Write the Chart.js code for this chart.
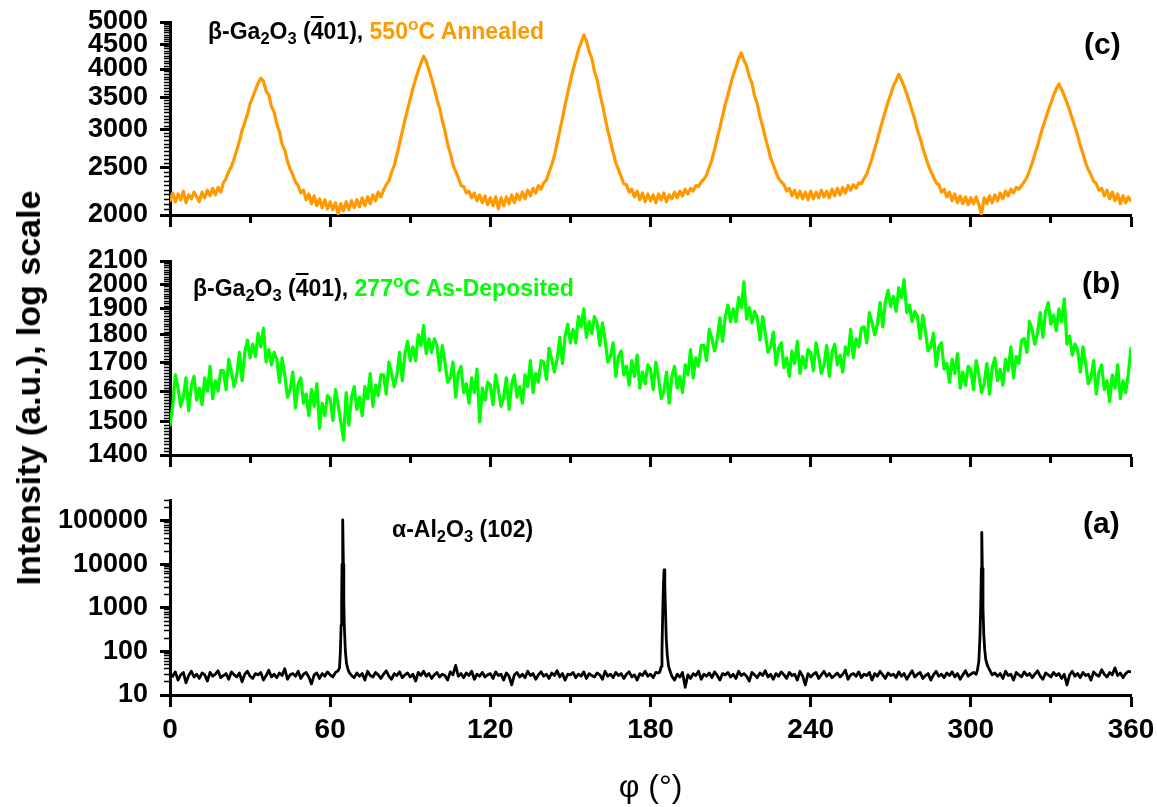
<!DOCTYPE html>
<html>
<head>
<meta charset="utf-8">
<script src="https://cdn.jsdelivr.net/npm/chart.js@4.4.1/dist/chart.umd.min.js"></script>
<style>
html,body{margin:0;padding:0;background:#fff;}
#wrap{position:relative;width:1157px;height:807px;overflow:hidden;font-family:"Liberation Sans",Arial,Helvetica,sans-serif;background:#fff;}
canvas{position:absolute;left:0;}
.ann{position:absolute;white-space:nowrap;font-weight:bold;font-size:23px;line-height:23px;color:#000;}
.sb{position:relative;font-size:0.72em;top:0.32em;}
.sp{position:relative;font-size:0.75em;top:-0.55em;}
.ob{text-decoration:overline;}
.lt{position:absolute;white-space:nowrap;font-weight:bold;font-size:30px;line-height:30px;color:#000;}
#ytitle{position:absolute;left:28px;top:388px;transform:translate(-50%,-50%) rotate(-90deg);font-weight:bold;font-size:34px;line-height:34px;white-space:nowrap;color:#000;}
</style>
</head>
<body>
<div id="wrap">
  <canvas id="cC" width="1157" height="240" style="top:0px;width:1157px;height:240px"></canvas>
  <canvas id="cB" width="1157" height="240" style="top:240px;width:1157px;height:240px"></canvas>
  <canvas id="cA" width="1157" height="327" style="top:480px;width:1157px;height:327px"></canvas>
  <div id="ytitle">Intensity (a.u.), log scale</div>
  <div class="ann" style="left:208px;top:20px">β-Ga<span class="sb">2</span>O<span class="sb">3</span> (<span class="ob">4</span>01), <span style="color:#FF9900">550<span class="sp">o</span>C Annealed</span></div>
  <div class="ann" style="left:193px;top:277px">β-Ga<span class="sb">2</span>O<span class="sb">3</span> (<span class="ob">4</span>01), <span style="color:#00FF00">277<span class="sp">o</span>C As-Deposited</span></div>
  <div class="ann" style="left:392px;top:518px">α-Al<span class="sb">2</span>O<span class="sb">3</span> (102)</div>
  <div class="lt" style="left:1084px;top:29px">(c)</div>
  <div class="lt" style="left:1082px;top:268px">(b)</div>
  <div class="lt" style="left:1083px;top:508px">(a)</div>
</div>
<script>
// ---------------- data ----------------
const PHI_STEP = 1; // degrees between samples of panels (b) and (c)

// (c) beta-Ga2O3 (-401), 550 C annealed
const intensityC = [
2140,2220,2130,2210,2150,2240,2120,2200,2160,2230,
2180,2130,2230,2170,2250,2190,2270,2200,2280,2230,
2330,2380,2460,2520,2610,2720,2840,2990,3100,3230,
3390,3500,3620,3740,3830,3780,3600,3540,3350,3260,
3080,2970,2800,2720,2580,2490,2420,2340,2300,2220,
2250,2150,2210,2110,2190,2090,2160,2070,2150,2060,
2130,2050,2120,2010,2110,2040,2130,2050,2140,2070,
2150,2080,2170,2090,2180,2110,2200,2140,2230,2180,
2250,2310,2350,2450,2530,2660,2810,2970,3140,3300,
3470,3650,3810,3970,4110,4250,4150,3980,3820,3650,
3470,3320,3130,2980,2800,2680,2540,2460,2390,2300,
2290,2220,2240,2170,2220,2140,2200,2120,2190,2100,
2170,2090,2180,2060,2170,2090,2180,2110,2200,2120,
2210,2150,2230,2160,2250,2190,2270,2220,2300,2260,
2330,2360,2450,2540,2650,2810,2980,3160,3370,3570,
3780,3990,4170,4380,4530,4700,4570,4350,4210,3960,
3800,3560,3380,3170,2990,2840,2690,2560,2480,2400,
2320,2310,2230,2260,2180,2240,2150,2220,2130,2210,
2140,2200,2120,2210,2150,2220,2130,2200,2160,2230,
2170,2240,2190,2260,2210,2270,2240,2300,2290,2340,
2370,2420,2510,2600,2730,2880,3030,3200,3380,3540,
3720,3890,4030,4200,4315,4170,4060,3860,3740,3520,
3390,3190,3050,2890,2760,2620,2540,2450,2380,2340,
2310,2240,2270,2190,2250,2170,2240,2160,2230,2150,
2240,2160,2230,2170,2250,2180,2240,2170,2260,2190,
2270,2200,2280,2220,2300,2250,2310,2270,2330,2320,
2380,2430,2520,2620,2740,2860,3000,3140,3280,3420,
3550,3690,3790,3900,3800,3680,3550,3420,3280,3150,
2990,2880,2750,2640,2540,2460,2400,2330,2310,2230,
2260,2180,2230,2140,2210,2120,2190,2110,2180,2100,
2170,2110,2180,2100,2010,2170,2110,2190,2120,2200,
2140,2220,2160,2240,2190,2260,2220,2280,2260,2300,
2340,2390,2470,2560,2670,2780,2910,3040,3160,3290,
3400,3530,3640,3725,3630,3520,3410,3290,3160,3040,
2920,2780,2680,2560,2480,2420,2350,2320,2250,2270,
2190,2250,2160,2230,2140,2210,2110,2190,2120,2180,
2140
];

// (b) beta-Ga2O3 (-401), 277 C as-deposited
const intensityB = [
1490,1550,1655,1610,1550,1580,1645,1535,1620,1650,
1570,1610,1555,1645,1600,1685,1575,1635,1600,1670,
1670,1605,1710,1665,1615,1655,1735,1635,1735,1780,
1715,1765,1720,1805,1755,1825,1700,1745,1690,1735,
1710,1630,1715,1655,1580,1605,1665,1545,1625,1645,
1560,1590,1520,1605,1550,1625,1480,1560,1520,1585,
1575,1505,1605,1555,1500,1445,1595,1490,1580,1615,
1540,1580,1520,1615,1575,1660,1550,1620,1585,1655,
1655,1590,1700,1660,1615,1655,1735,1635,1730,1775,
1705,1755,1705,1800,1760,1835,1730,1785,1735,1785,
1760,1670,1760,1700,1630,1645,1700,1580,1660,1685,
1595,1625,1560,1645,1595,1675,1500,1610,1570,1630,
1620,1555,1655,1605,1550,1580,1645,1540,1625,1655,
1580,1615,1560,1655,1615,1705,1595,1660,1630,1705,
1700,1640,1750,1710,1665,1710,1790,1695,1795,1840,
1770,1820,1770,1870,1830,1900,1790,1850,1805,1870,
1845,1760,1845,1780,1700,1720,1770,1650,1720,1740,
1655,1685,1620,1705,1650,1725,1610,1665,1625,1690,
1675,1605,1700,1645,1575,1600,1665,1560,1650,1685,
1610,1650,1595,1690,1655,1745,1645,1715,1685,1760,
1760,1705,1820,1785,1740,1785,1865,1775,1870,1915,
1850,1900,1850,1945,1905,2010,1860,1905,1845,1890,
1865,1780,1870,1805,1735,1755,1810,1690,1750,1770,
1680,1715,1650,1740,1695,1775,1660,1720,1680,1745,
1735,1670,1770,1720,1660,1690,1760,1650,1735,1765,
1690,1725,1665,1755,1725,1820,1715,1785,1755,1825,
1830,1770,1885,1845,1800,1840,1925,1830,1930,1975,
1910,1950,1890,1985,1945,2020,1885,1915,1850,1890,
1870,1785,1875,1810,1740,1755,1805,1685,1755,1770,
1675,1695,1630,1710,1660,1730,1610,1665,1620,1685,
1675,1605,1705,1655,1595,1625,1695,1590,1680,1715,
1635,1675,1620,1710,1670,1755,1645,1720,1695,1780,
1785,1735,1850,1815,1765,1810,1885,1790,1890,1925,
1840,1875,1815,1900,1850,1940,1765,1795,1725,1765,
1745,1665,1755,1695,1625,1645,1705,1590,1665,1690,
1605,1635,1565,1655,1610,1690,1575,1635,1595,1660,
1750
];

// (a) alpha-Al2O3 (102): background sampled every degree ...
const backgroundA = [
31,27,34,22,29,33,19,28,35,26,
30,24,32,29,21,33,27,30,36,25,
28,31,23,34,29,26,32,20,30,35,
27,24,31,29,33,22,28,37,26,30,
25,32,28,40,23,29,31,27,35,24,
30,33,26,18,29,32,24,31,27,34,
29,26,33,36,30,30,30,30,28,25,
32,27,31,22,35,28,26,33,29,24,
30,36,27,23,31,28,34,25,29,32,
26,30,21,33,28,35,27,31,24,29,
33,26,30,28,22,34,29,48,27,31,
25,32,28,35,23,30,27,33,26,29,
31,24,34,28,30,22,32,27,17,29,
33,26,30,25,35,28,31,23,29,34,
27,30,24,32,28,36,26,31,22,30,
29,33,25,30,27,34,24,31,28,26,
32,29,23,35,27,30,25,33,28,31,
24,30,34,26,29,22,31,28,35,27,
30,25,33,32,30,30,30,30,27,22,
30,26,33,15,29,24,31,28,35,23,
30,27,32,25,34,28,22,31,29,33,
26,30,24,35,28,31,27,21,33,29,
25,32,28,36,26,30,23,31,27,34,
29,24,33,28,30,22,35,27,17,31,
26,30,33,24,29,35,27,31,25,28,
32,26,30,37,23,29,31,27,34,25,
30,28,33,22,31,27,35,29,24,32,
28,30,25,34,27,31,23,29,36,26,
30,33,24,28,31,22,29,35,27,30,
25,32,28,34,26,31,23,29,36,27,
30,33,30,30,30,30,30,36,29,32,
27,31,24,35,28,30,22,33,29,26,
34,28,31,25,30,36,27,23,32,29,
26,33,28,31,24,30,17,29,35,27,
31,25,33,28,30,22,34,29,27,38,
30,26,33,29,42,28,32,25,31,35,
34
];
// ... and the three substrate reflections, finely sampled [phi, intensity]
const peakA1 = [[63,36],[63.5,42],[63.8,90],[64.1,400],[64.3,1500],[64.45,10000],[64.7,105000],[64.95,10000],[65.1,1500],[65.3,400],[65.7,100],[66.1,55],[66.5,42],[67,34]];
const peakA2 = [[183.5,34],[184,45],[184.3,100],[184.6,900],[184.85,3500],[185.1,7500],[185.35,3500],[185.6,900],[185.9,200],[186.3,80],[186.8,45],[187.3,36]];
const peakA3 = [[302.5,38],[303,60],[303.4,200],[303.7,1000],[303.95,8000],[304.1,54000],[304.3,8000],[304.55,1000],[304.85,250],[305.2,110],[305.6,65],[306.2,48],[307,38]];

// axis ticks / labels
const xLabels = [0, 60, 120, 180, 240, 300, 360];
const xMinorStep = 30;
const yLabelsC = [2000, 2500, 3000, 3500, 4000, 4500, 5000];
const yMinorStepC = 50;
const yLabelsB = [1400, 1500, 1600, 1700, 1800, 1900, 2000, 2100];
const yMinorStepB = 10;
const yLabelsA = [10, 100, 1000, 10000, 100000];
const yMaxA = 300000;

// ---------------- helpers ----------------
const FONT = "'Liberation Sans', Arial, Helvetica, sans-serif";
Chart.defaults.font.family = FONT;
Chart.defaults.color = '#000';

function rangeTicks(lo, hi, step) { const t = []; for (let v = lo; v <= hi + 1e-9; v += step) t.push(v); return t; }
const xTicks = rangeTicks(xLabels[0], xLabels[xLabels.length - 1], xMinorStep);
const yTicksC = rangeTicks(yLabelsC[0], yLabelsC[yLabelsC.length - 1], yMinorStepC);
const yTicksB = rangeTicks(yLabelsB[0], yLabelsB[yLabelsB.length - 1], yMinorStepB);
const yTicksA = [];
yLabelsA.forEach(d => { for (let m = 1; m <= 9; m++) { if (m * d <= yMaxA) yTicksA.push(m * d); } });

function seriesFromSteps(arr) { return arr.map((v, i) => ({ x: i * PHI_STEP, y: v })); }
function seriesA() {
  const pts = [];
  const wins = [peakA1, peakA2, peakA3].map(p => [p[0][0], p[p.length - 1][0]]);
  backgroundA.forEach((v, i) => {
    const x = i * PHI_STEP;
    if (!wins.some(w => x >= w[0] && x <= w[1])) pts.push({ x: x, y: v });
  });
  [peakA1, peakA2, peakA3].forEach(p => p.forEach(q => pts.push({ x: q[0], y: q[1] })));
  pts.sort((a, b) => a.x - b.x);
  return pts;
}

function xScale(showLabels, height) {
  return {
    type: 'linear', position: 'bottom', min: xLabels[0], max: xLabels[xLabels.length - 1],
    afterBuildTicks: s => { s.ticks = xTicks.map(v => ({ value: v })); },
    afterFit: s => { s.height = height; s.paddingLeft = 0; s.paddingRight = 0; },
    border: { display: true, color: '#000', width: 3 },
    grid: {
      display: true, drawOnChartArea: false, drawTicks: true, tickLength: 12, lineWidth: 1,
      tickColor: '#000', tickWidth: 3,
      tickBorderDash: c => (xLabels.includes(c.tick && c.tick.value) ? [] : [6, 40])
    },
    ticks: {
      display: showLabels, autoSkip: false, maxRotation: 0, padding: 6, color: '#000',
      font: { family: FONT, size: 28, weight: 'bold' },
      callback: v => (xLabels.includes(v) ? String(v) : '')
    },
    title: showLabels ? { display: true, text: 'φ (°)', color: '#000', font: { family: FONT, size: 32, weight: 'normal' }, padding: { top: 0, bottom: 0 } } : { display: false }
  };
}

function yScale(min, max, tickVals, labelVals) {
  return {
    type: 'logarithmic', position: 'left', min: min, max: max,
    afterBuildTicks: s => { s.ticks = tickVals.map(v => ({ value: v })); },
    afterFit: s => { s.width = 170; s.paddingTop = 0; s.paddingBottom = 0; },
    border: { display: true, color: '#000', width: 3 },
    grid: {
      display: true, drawOnChartArea: false, drawTicks: true, tickLength: 10, lineWidth: 1,
      tickColor: '#000',
      tickWidth: c => (labelVals.includes(c.tick && c.tick.value) ? 3 : 1.6),
      tickBorderDash: c => (labelVals.includes(c.tick && c.tick.value) ? [] : [0, 4, 40])
    },
    ticks: {
      autoSkip: false, padding: 12, color: '#000',
      font: { family: FONT, size: 27, weight: 'bold' },
      callback: v => (labelVals.includes(v) ? String(v) : '')
    }
  };
}

function panel(id, data, color, width, y, padTop, xHeight, showX) {
  return new Chart(document.getElementById(id), {
    type: 'line',
    data: { datasets: [{ data: data, borderColor: color, borderWidth: width, pointRadius: 0, tension: 0, fill: false, borderJoinStyle: 'round', borderCapStyle: 'round' }] },
    options: {
      responsive: false, animation: false, devicePixelRatio: 1, events: [],
      layout: { padding: { top: padTop, right: 26, bottom: 0, left: 0 } },
      plugins: { legend: { display: false }, tooltip: { enabled: false }, title: { display: false } },
      scales: { x: xScale(showX, xHeight), y: y }
    }
  });
}

panel('cC', seriesFromSteps(intensityC), '#FF9900', 3.2,
  yScale(yLabelsC[0], yLabelsC[yLabelsC.length - 1], yTicksC, yLabelsC), 22, 25, false);
panel('cB', seriesFromSteps(intensityB), '#00FF00', 3.2,
  yScale(yLabelsB[0], yLabelsB[yLabelsB.length - 1], yTicksB, yLabelsB), 21, 25, false);
panel('cA', seriesA(), '#000000', 2.8,
  yScale(yLabelsA[0], yMaxA, yTicksA, yLabelsA), 20, 112, true);
</script>
</body>
</html>
